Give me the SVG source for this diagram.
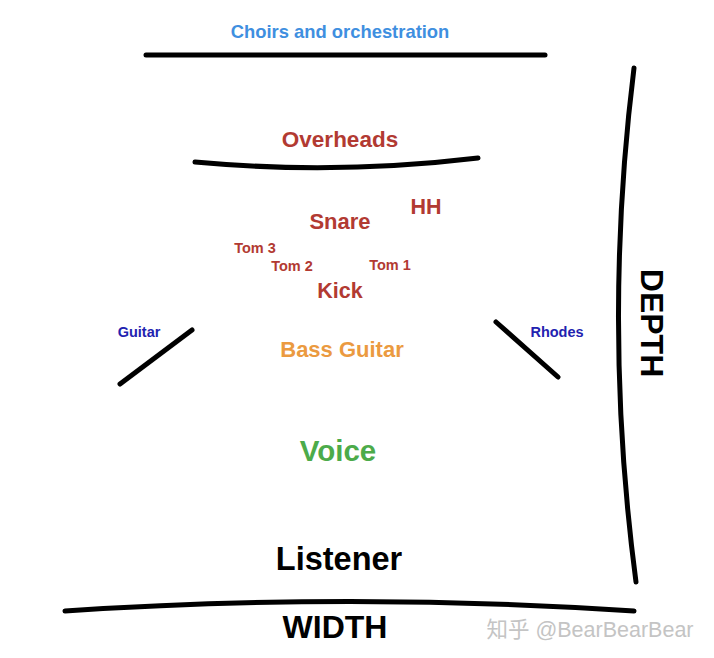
<svg xmlns="http://www.w3.org/2000/svg" width="714" height="658" viewBox="0 0 714 658">
<style>
text{font-family:"Liberation Sans",Arial,sans-serif;font-weight:bold;text-anchor:middle}
.ln{fill:none;stroke:#000;stroke-width:5;stroke-linecap:round}
.red{fill:#b23a32}
.navy{fill:#2222b0;font-size:14.5px}
</style>
<rect width="714" height="658" fill="#fff"/>
<g id="connectors">
<path class="ln" d="M146,55 L545,55"/>
<path class="ln" d="M195,162 Q336,175 478,158"/>
<path class="ln" d="M120,384 L192,330"/>
<path class="ln" d="M496,322 L558,377"/>
<path class="ln" d="M634,68 Q602,325 636,582" stroke-width="4.5"/>
<path class="ln" d="M65,611 Q350,592 634,611"/>
</g>
<g id="choirs"><text x="340" y="38" font-size="18.4" fill="#3f8fe0">Choirs and orchestration</text></g>
<g id="overheads"><text x="340" y="147" font-size="22.5" class="red">Overheads</text></g>
<g id="snare"><text x="340" y="229" font-size="22" class="red">Snare</text></g>
<g id="hh"><text x="426" y="214" font-size="21.5" class="red">HH</text></g>
<g id="tom3"><text x="255" y="253" font-size="14.5" class="red">Tom 3</text></g>
<g id="tom2"><text x="292" y="271" font-size="14.5" class="red">Tom 2</text></g>
<g id="tom1"><text x="390" y="270" font-size="14.5" class="red">Tom 1</text></g>
<g id="kick"><text x="340" y="298" font-size="21.5" class="red">Kick</text></g>
<g id="guitar"><text x="139" y="337" class="navy">Guitar</text></g>
<g id="rhodes"><text x="557" y="337" class="navy">Rhodes</text></g>
<g id="bass"><text x="342" y="357" font-size="22" fill="#eb9a40">Bass Guitar</text></g>
<g id="voice"><text x="338" y="461" font-size="29.5" fill="#4cab4a">Voice</text></g>
<g id="listener"><text x="339" y="570" font-size="32.5" fill="#000">Listener</text></g>
<g id="width"><text x="335" y="638" font-size="32" fill="#000">WIDTH</text></g>
<g id="depth"><text transform="translate(641,323) rotate(90)" font-size="32" fill="#000">DEPTH</text></g>
<text x="590" y="637" font-size="21.5" fill="#c4c4c4" style="font-weight:normal;font-family:'Liberation Sans','Noto Sans CJK SC',sans-serif">知乎 @BearBearBear</text>
</svg>
